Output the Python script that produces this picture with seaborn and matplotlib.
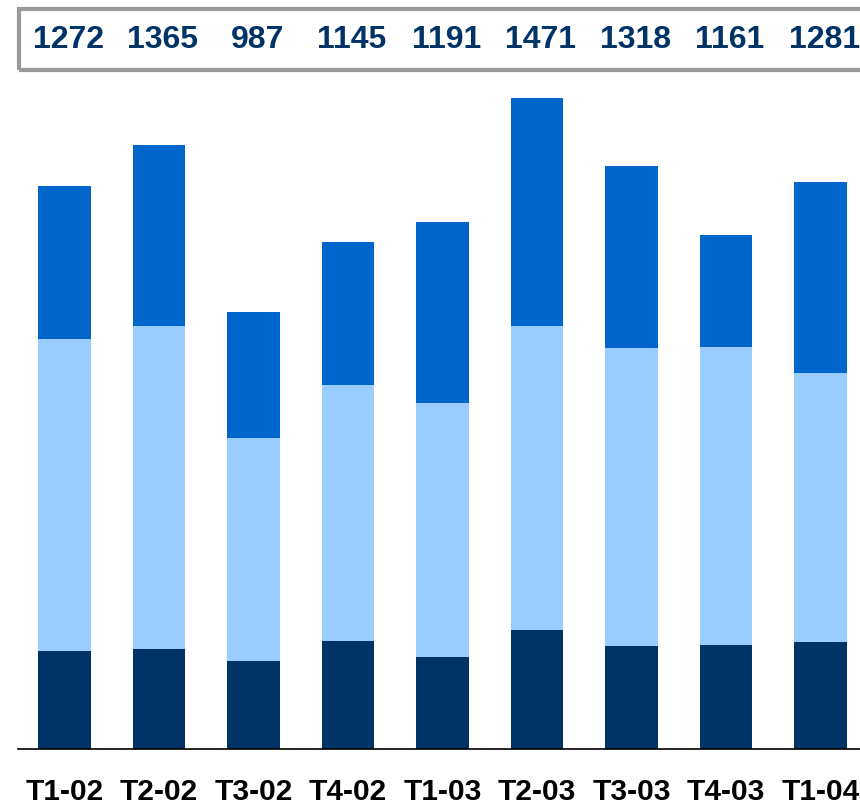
import matplotlib
matplotlib.use("Agg")
import matplotlib.pyplot as plt
from matplotlib.patches import Rectangle
from matplotlib.transforms import blended_transform_factory
import seaborn as sns
import pandas as pd

# Data
quarters = ["T1-02", "T2-02", "T3-02", "T4-02", "T1-03", "T2-03", "T3-03", "T4-03", "T1-04"]
totals = [1272, 1365, 987, 1145, 1191, 1471, 1318, 1161, 1281]
bottom_part = [222, 227, 200, 245, 207, 268, 232, 236, 241]
middle_part = [704, 729, 502, 577, 574, 688, 674, 672, 608]

dark = "#003366"
light = "#99CCFF"
mid = "#0066CC"

sns.set_style("white")
plt.rcParams['font.family'] = ['Liberation Sans', 'DejaVu Sans']

df = pd.DataFrame({
    "quarter": quarters,
    "total": totals,
    "bottom": bottom_part,
    "lower_two": [b + m for b, m in zip(bottom_part, middle_part)],
})

W, H = 860, 807
fig = plt.figure(figsize=(W / 100, H / 100), dpi=100)
ax = fig.add_axes([18 / W, (H - 749) / H, 862 / W, (749 - 80) / H])

# stacked bars: draw cumulative heights back to front
bw = 0.56
for col, c in [("total", mid), ("lower_two", light), ("bottom", dark)]:
    sns.barplot(data=df, x="quarter", y=col, color=c, width=bw, saturation=1,
                linewidth=0, edgecolor="none", ax=ax)

ax.set_xlim(-0.492, 8.63)
ax.set_ylim(0, 669 / 0.4425)
ax.set_xlabel("")
ax.set_ylabel("")
ax.set_yticks([])
for s in ["top", "right", "left"]:
    ax.spines[s].set_visible(False)
ax.spines["bottom"].set_color("black")
ax.spines["bottom"].set_linewidth(1.2)
ax.tick_params(axis="x", length=0, pad=21)
for lbl in ax.get_xticklabels():
    lbl.set_fontsize(21.5)
    lbl.set_fontweight("bold")
    lbl.set_color("black")

# header box with totals
fig.add_artist(Rectangle((19 / W, (H - 70) / H), 900 / W, 61 / H,
                         transform=fig.transFigure, fill=False,
                         edgecolor="#999999", linewidth=3))
trans = blended_transform_factory(ax.transData, fig.transFigure)
for i, t in enumerate(totals):
    ax.text(i + 0.04, (H - 40) / H, str(t), transform=trans, ha="center", va="center",
            fontsize=23, fontweight="bold", color=dark, clip_on=False)

fig.savefig("out.png", dpi=100)
